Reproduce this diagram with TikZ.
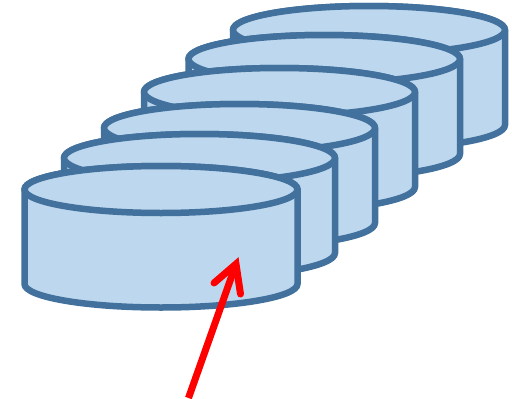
\documentclass[tikz,border=0pt]{standalone}
\definecolor{cylfill}{RGB}{189,215,238}
\definecolor{cylline}{RGB}{65,113,156}
\tikzset{
 cyl/.style={fill=cylfill,draw=cylline,line width=6.5pt,line join=round},
 pointer/.style={draw=red,line width=7pt,line join=miter}
}
\newcommand{\cylinder}[5]{% left, top centre y, right, half-height of ellipse, body height
 \path[cyl] (#1,-#2) -- (#1,-#2-#5) arc[start angle=180,end angle=360,x radius={(#3-#1)/2},y radius=#4] -- (#3,-#2) arc[start angle=0,end angle=180,x radius={(#3-#1)/2},y radius=#4] -- cycle;
 \path[cyl] ({(#1+#3)/2},-#2) ellipse[x radius={(#3-#1)/2},y radius=#4];
}
\begin{document}
\begin{tikzpicture}[x=1pt,y=1pt]
\useasboundingbox (0,0) rectangle (512,-399);
\cylinder{233}{30}{505}{24}{95}
\cylinder{188.5}{59}{460}{24}{95}
\cylinder{144}{92}{415}{24}{95}
\cylinder{104}{128}{375}{24}{95}
\cylinder{64}{158}{335}{24}{95}
\cylinder{24.5}{189.5}{297.5}{23.5}{94.5}
\coordinate (tail) at (188.5,-398);
\coordinate (tip) at (236,-264);
\coordinate (barbL) at (214,-283);
\coordinate (barbR) at (240.5,-294);
\draw[pointer] (tail) -- (tip);
\draw[pointer,line cap=round] (barbL) -- (tip) -- (barbR);
\end{tikzpicture}
\end{document}
